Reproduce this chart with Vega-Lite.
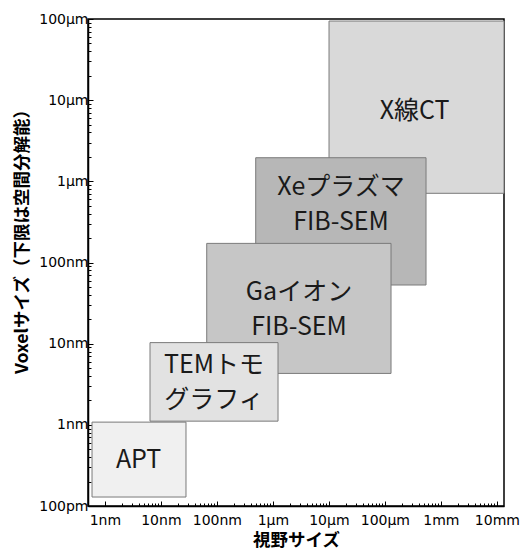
{
  "$schema": "https://vega.github.io/schema/vega-lite/v6.json",
  "autosize": "none",
  "width": 416,
  "height": 487,
  "padding": {"left": 88, "top": 19, "right": 19, "bottom": 48},
  "background": "white",
  "config": {
    "view": {"stroke": "#000", "strokeWidth": 1.5},
    "axis": {"grid": false, "domainColor": "#000", "domainWidth": 1.5, "tickColor": "#000", "tickWidth": 1, "labelColor": "#000", "titleColor": "#000", "labelFont": "DejaVu Sans", "labelFontSize": 14, "titleFont": "Noto Sans CJK JP", "titleFontSize": 17.5, "titleFontWeight": "bold"}
  },
  "data": {"values": [
    {"name": "CT", "x1": 10065, "x2": 13400000, "y1": 712, "y2": 94400, "label": "X線CT", "lx": 340000, "ly": 7300},
    {"name": "Xe", "x1": 494, "x2": 543000, "y1": 52.8, "y2": 1954, "label": "Xeプラズマ\nFIB-SEM", "lx": 16480, "ly": 851},
    {"name": "Ga", "x1": 65.9, "x2": 128800, "y1": 4.3, "y2": 172, "label": "Gaイオン\nFIB-SEM", "lx": 2930, "ly": 43.7},
    {"name": "TEM", "x1": 6.4, "x2": 1236, "y1": 1.11, "y2": 10.3, "label": "TEMトモ\nグラフィ", "lx": 88.9, "ly": 5.46},
    {"name": "APT", "x1": 0.59, "x2": 28.1, "y1": 0.129, "y2": 1.08, "label": "APT", "lx": 4.0, "ly": 0.365}
  ]},
  "layer": [
    {
      "mark": {"type": "rect", "stroke": "#7a7a7a", "strokeWidth": 1},
      "encoding": {
        "x": {"field": "x1", "type": "quantitative", "scale": {"type": "log", "domain": [0.5, 13400000], "nice": false},
          "title": "視野サイズ",
          "axis": {
            "values": [1,2,3,4,5,6,7,8,9,10,20,30,40,50,60,70,80,90,100,200,300,400,500,600,700,800,900,1000,2000,3000,4000,5000,6000,7000,8000,9000,10000,20000,30000,40000,50000,60000,70000,80000,90000,100000,200000,300000,400000,500000,600000,700000,800000,900000,1000000,2000000,3000000,4000000,5000000,6000000,7000000,8000000,9000000,10000000],
            "labelExpr": "datum.value==1?'1nm':datum.value==10?'10nm':datum.value==100?'100nm':datum.value==1000?'1µm':datum.value==10000?'10µm':datum.value==100000?'100µm':datum.value==1000000?'1mm':datum.value==10000000?'10mm':''",
            "labelOverlap": false, "labelFlush": false, "labelBound": false,
            "tickSize": {"condition": {"test": "abs(log(datum.value)/LN10 - round(log(datum.value)/LN10)) < 0.000001", "value": -5}, "value": -3},
            "labelPadding": 12, "titlePadding": 2
          }},
        "x2": {"field": "x2"},
        "y": {"field": "y1", "type": "quantitative", "scale": {"type": "log", "domain": [0.1, 100000], "nice": false},
          "title": "Voxelサイズ（下限は空間分解能）",
          "axis": {
            "values": [0.1,0.2,0.3,0.4,0.5,0.6,0.7,0.8,0.9,1,2,3,4,5,6,7,8,9,10,20,30,40,50,60,70,80,90,100,200,300,400,500,600,700,800,900,1000,2000,3000,4000,5000,6000,7000,8000,9000,10000,20000,30000,40000,50000,60000,70000,80000,90000,100000],
            "labelExpr": "datum.value==0.1?'100pm':datum.value==1?'1nm':datum.value==10?'10nm':datum.value==100?'100nm':datum.value==1000?'1µm':datum.value==10000?'10µm':datum.value==100000?'100µm':''",
            "labelOverlap": false, "labelFlush": false, "labelBound": false,
            "tickSize": {"condition": {"test": "abs(log(datum.value)/LN10 - round(log(datum.value)/LN10)) < 0.000001", "value": -5}, "value": -3},
            "labelPadding": 5,
            "titleX": -66, "titleY": 218, "titleBaseline": "middle", "titleAnchor": "middle"
          }},
        "y2": {"field": "y2"},
        "fill": {"field": "name", "type": "nominal", "legend": null,
          "scale": {"domain": ["CT", "Xe", "Ga", "TEM", "APT"], "range": ["#d9d9d9", "#b7b7b7", "#c6c6c6", "#e2e2e2", "#f0f0f0"]}},
        "order": {"value": 0}
      }
    },
    {
      "mark": {"type": "text", "font": "Noto Sans CJK JP", "fontSize": 25, "lineBreak": "\n", "lineHeight": 35, "color": "#1a1a1a", "align": "center", "baseline": "middle"},
      "encoding": {
        "x": {"field": "lx", "type": "quantitative"},
        "y": {"field": "ly", "type": "quantitative"},
        "text": {"field": "label"}
      }
    }
  ]
}
